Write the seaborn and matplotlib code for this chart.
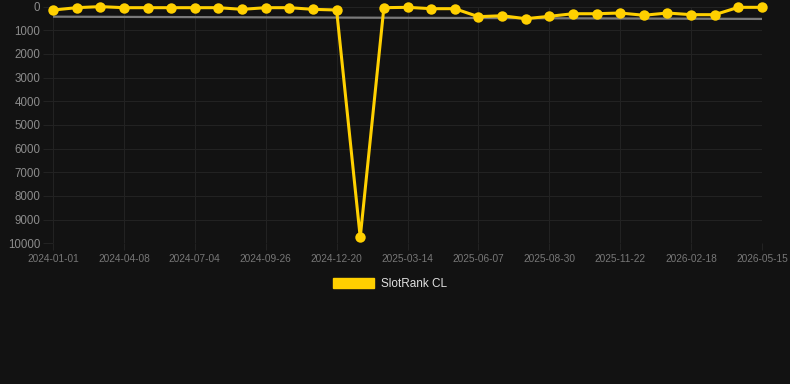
import matplotlib
matplotlib.use("Agg")
import matplotlib.pyplot as plt
import matplotlib.patches as mpatches
import seaborn as sns
import numpy as np
import pandas as pd

dates = ["2024-01-01", "2024-02-03", "2024-03-06", "2024-04-08", "2024-05-07",
         "2024-06-05", "2024-07-04", "2024-08-01", "2024-08-29", "2024-09-26",
         "2024-10-24", "2024-11-22", "2024-12-20", "2025-01-17", "2025-02-14",
         "2025-03-14", "2025-04-11", "2025-05-10", "2025-06-07", "2025-07-05",
         "2025-08-02", "2025-08-30", "2025-09-27", "2025-10-25", "2025-11-22",
         "2025-12-21", "2026-01-19", "2026-02-18", "2026-03-18", "2026-04-16",
         "2026-05-15"]
rank = [150, 50, 5, 50, 50, 50, 50, 50, 120, 50, 50, 120, 148, 9750, 50,
        35, 92, 92, 430, 390, 515, 415, 305, 305, 275, 370, 275, 345, 345, 35, 35]
trend = [430, 525]
series_name = "SlotRank CL"
yticks = [0, 1000, 2000, 3000, 4000, 5000, 6000, 7000, 8000, 9000, 10000]

BG = "#121212"
GOLD = "#FFD000"
GRID = "#222222"

sns.set_theme(style="dark")
plt.rcParams["font.family"] = ["Liberation Sans", "DejaVu Sans"]

df = pd.DataFrame({"idx": np.arange(len(dates)), "rank": rank, "date": dates})

fig = plt.figure(figsize=(7.9, 3.84), dpi=100, facecolor=BG)
ax = fig.add_axes([53 / 790, 1 - 243.3 / 384, (762 - 53) / 790, (243.3 - 6.5) / 384])
ax.set_facecolor(BG)

# trend line
ax.plot([df["idx"].iloc[0], df["idx"].iloc[-1]], trend, color="#7a7a7a", lw=1.6,
        zorder=2, solid_capstyle="butt")

sns.lineplot(data=df, x="idx", y="rank", ax=ax, color=GOLD, lw=2.2, marker="o",
             markersize=7.5, markeredgewidth=0, zorder=3, clip_on=False)
for ln in ax.get_lines()[1:]:
    ln.set_solid_joinstyle("miter")

ax.set_ylim(10000, 0)
ax.set_xlim(0, len(dates) - 1)
ax.set_yticks(yticks)
ax.set_yticklabels([str(v) for v in yticks])
ax.set_xticks(df["idx"][::3])
ax.set_xticklabels(df["date"][::3])
ax.set_xlabel("")
ax.set_ylabel("")

ax.grid(True, color=GRID, lw=0.8)
for s in ax.spines.values():
    s.set_visible(False)
ax.tick_params(axis="y", colors=GRID, labelcolor="#8c8c8c", labelsize=8.3,
               length=7, width=0.8, pad=2, left=True)
ax.tick_params(axis="x", colors=GRID, labelcolor="#777777", labelsize=7.3,
               length=5, width=0.8, pad=3, bottom=True)

handle = mpatches.Patch(facecolor=GOLD, edgecolor=GOLD, label=series_name)
leg = fig.legend(handles=[handle], loc="center", bbox_to_anchor=(390 / 790, 1 - 284 / 384),
                 frameon=False, fontsize=8.5, handlelength=3.4, handleheight=0.9,
                 handletextpad=0.6, labelcolor="#e0e0e0")

fig.savefig("out.png", dpi=100, facecolor=BG)
